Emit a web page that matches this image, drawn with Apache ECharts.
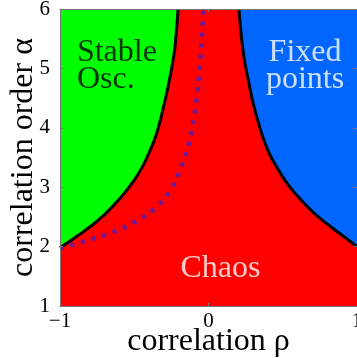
<!DOCTYPE html>
<html><head><meta charset="utf-8">
<script src="https://cdn.jsdelivr.net/npm/echarts@6/dist/echarts.min.js"></script>
<style>html,body{margin:0;padding:0;background:#fff}#c{width:357px;height:358px}</style>
</head><body><div id="c"></div>
<script>
// axis ticks
const xTicks = [-1, 0, 1];
const yTicks = [1, 2, 3, 4, 5, 6];
// boundary: stable oscillations (left)
const stableRho   = [-1, -0.9, -0.8, -0.7, -0.6, -0.5, -0.44, -0.4, -0.35, -0.3, -0.27, -0.245, -0.225, -0.205];
const stableAlpha = [1.98, 2.15, 2.33, 2.54, 2.80, 3.12, 3.37, 3.58, 3.90, 4.38, 4.72, 5.05, 5.38, 6.0];
// boundary: fixed points (right)
const fixedRho   = [0.205, 0.225, 0.245, 0.27, 0.30, 0.35, 0.40, 0.45, 0.52, 0.60, 0.70, 0.80, 0.90, 1.0];
const fixedAlpha = [6.0, 5.45, 5.1, 4.78, 4.42, 3.97, 3.62, 3.38, 3.10, 2.85, 2.59, 2.38, 2.19, 2.0];
// dotted curve
const dotRho   = [-1, -0.82, -0.66, -0.5, -0.36, -0.26, -0.19, -0.145, -0.11, -0.08, -0.06, -0.045, -0.035];
const dotAlpha = [1.97, 2.1, 2.23, 2.41, 2.65, 2.94, 3.3, 3.62, 4.0, 4.5, 5.0, 5.5, 6.0];
// region labels
const regionNames = ['Stable\nOsc.', 'Fixed\npoints', 'Chaos'];
const regionRho   = [-0.886, 0.65, 0.08];
const regionAlpha = [5.04, 5.04, 1.63];

const FONT = '"Liberation Serif", serif';
const zip = (a, b) => a.map((v, i) => [v, b[i]]);

const chart = echarts.init(document.getElementById('c'), null, {renderer: 'canvas'});
const tickFmt = v => String(v).replace('-', '\u2212');
const baseX = {
  type: 'value', min: -1, max: 1, interval: 1,
  axisLine: {show: true, onZero: false, lineStyle: {color: '#777', width: 1}},
  axisTick: {show: true, inside: true, length: 3, lineStyle: {color: '#777'}},
  splitLine: {show: false}, z: 5
};
const baseY = {
  type: 'value', min: 1, max: 6, interval: 1,
  axisLine: {show: true, onZero: false, lineStyle: {color: '#777', width: 1}},
  axisTick: {show: true, inside: true, length: 3, lineStyle: {color: '#777'}},
  splitLine: {show: false}, z: 5
};
chart.setOption({
  animation: false,
  backgroundColor: '#fff',
  grid: {left: 60, right: 0, top: 9, bottom: 52, show: true, backgroundColor: '#ff0000', borderWidth: 0,
    containLabel: false, outerBoundsMode: 'none'},
  xAxis: [
    Object.assign({}, baseX, {
      position: 'bottom',
      name: 'correlation \u03c1', nameLocation: 'middle', nameGap: 20, nameMoveOverlap: false,
      nameTextStyle: {fontFamily: FONT, fontSize: 32, color: '#000'},
      axisLabel: {fontFamily: FONT, fontSize: 21, color: '#000', margin: 5, formatter: tickFmt}
    }),
    Object.assign({}, baseX, {position: 'top', axisLabel: {show: false}})
  ],
  yAxis: [
    Object.assign({}, baseY, {
      position: 'left',
      name: 'correlation order \u03b1', nameLocation: 'middle', nameGap: 20, nameMoveOverlap: false,
      nameTextStyle: {fontFamily: FONT, fontSize: 32, color: '#000'},
      axisLabel: {fontFamily: FONT, fontSize: 21, color: '#000', margin: 10}
    }),
    Object.assign({}, baseY, {position: 'right', axisLabel: {show: false}})
  ],
  series: [
    {
      type: 'line', data: zip(stableRho, stableAlpha), smooth: true,
      showSymbol: false, symbol: 'none',
      lineStyle: {color: '#000', width: 3},
      areaStyle: {color: '#00ff00', opacity: 1, origin: 'end'}, z: 2
    },
    {
      type: 'line', data: zip(fixedRho, fixedAlpha), smooth: true,
      showSymbol: false, symbol: 'none',
      lineStyle: {color: '#000', width: 3},
      areaStyle: {color: '#0066ff', opacity: 1, origin: 'end'}, z: 2
    },
    {
      type: 'line', data: zip(dotRho, dotAlpha), smooth: true,
      showSymbol: false, symbol: 'none',
      lineStyle: {color: '#6a1b9a', width: 4.5, type: [4, 7], cap: 'butt'}, z: 3
    },
    {
      type: 'scatter', symbolSize: 0, silent: true, z: 4,
      data: regionNames.map((n, i) => ({
        value: [regionRho[i], regionAlpha[i]], name: n,
        label: {align: i === 0 ? 'left' : 'center', color: i === 0 ? '#000' : '#fff'}
      })),
      label: {show: true, position: [0, 0], verticalAlign: 'middle', formatter: p => p.name,
        fontFamily: FONT, fontSize: 32, lineHeight: 27}
    }
  ]
});
</script>
</body></html>
